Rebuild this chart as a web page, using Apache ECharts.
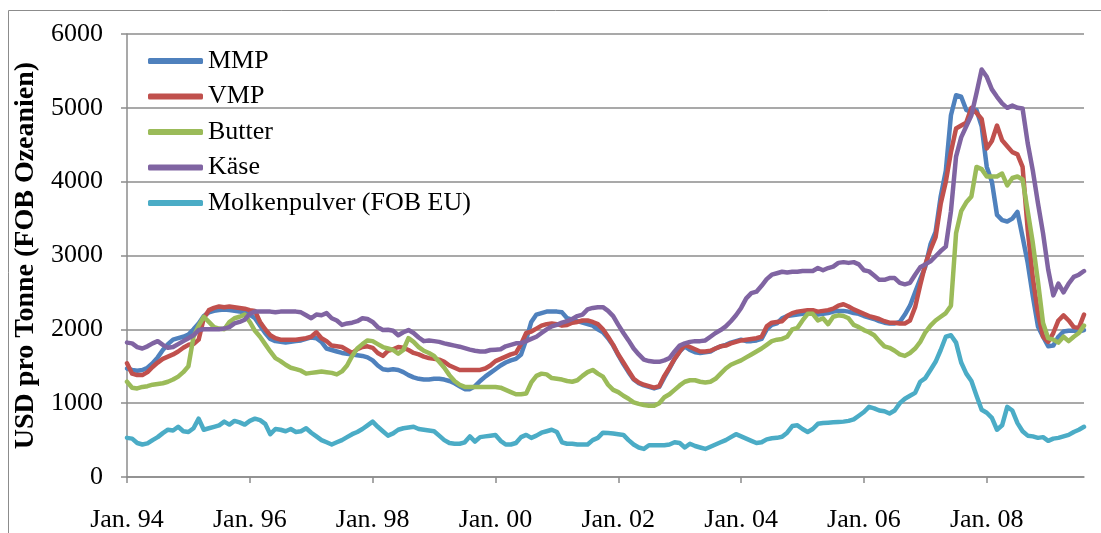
<!DOCTYPE html>
<html>
<head>
<meta charset="utf-8">
<title>Preise Milchprodukte</title>
<script src="https://cdn.jsdelivr.net/npm/echarts@6.0.0/dist/echarts.min.js"></script>
<style>
  html, body { margin: 0; padding: 0; background: #fff; }
  #chart { width: 1101px; height: 533px; }
</style>
</head>
<body>
<div id="chart"></div>
<script>
// Monatswerte ab Jan. 1994, USD pro Tonne
const startYear = 1994
const tickYears = [1994, 1996, 1998, 2000, 2002, 2004, 2006, 2008]

const mmp = [
  1470, 1450, 1440, 1450, 1480, 1540, 1620, 1720, 1800, 1860, 1880, 1900,
  1930, 2000, 2080, 2180, 2230, 2250, 2260, 2270, 2260, 2250, 2240, 2230,
  2200, 2150, 2050, 1950, 1870, 1840, 1830, 1820, 1830, 1840, 1850, 1870,
  1890, 1880, 1830, 1740, 1720, 1700, 1680, 1670, 1660, 1650, 1640, 1620,
  1580, 1510, 1460, 1450, 1460, 1450, 1420, 1380, 1350, 1330, 1320, 1320,
  1330, 1330, 1320, 1300, 1270, 1230, 1190, 1190, 1230, 1300, 1360, 1410,
  1460, 1510, 1550, 1580, 1600, 1660, 1860, 2100, 2200, 2220, 2240, 2240,
  2240, 2230, 2150, 2130, 2110, 2090, 2070, 2050, 2000, 1960, 1880, 1780,
  1650, 1530, 1420, 1320, 1270, 1240, 1220, 1200, 1220, 1350, 1470, 1600,
  1700, 1770, 1720, 1690, 1680, 1690, 1700, 1740, 1770, 1790, 1820, 1840,
  1860, 1840, 1840, 1850, 1870, 2000, 2060, 2080, 2150, 2180, 2190, 2200,
  2210, 2220, 2210, 2200, 2210, 2220, 2240, 2250, 2250, 2240, 2220, 2210,
  2180, 2160, 2140, 2110, 2090, 2080, 2080, 2100, 2200, 2320, 2500, 2680,
  2850, 3150, 3320, 3800, 4150, 4900, 5170, 5150, 4970, 4940, 4970, 4750,
  4200, 4000, 3550, 3480, 3460, 3500, 3590, 3250, 2900, 2450, 2040, 1900,
  1770, 1780, 1900, 1970, 1980, 1980, 1970, 1990
]

const vmp = [
  1540, 1400, 1380, 1380, 1420, 1490, 1550, 1600, 1630, 1660, 1700, 1750,
  1790, 1800, 1860, 2150, 2260, 2290, 2310, 2300, 2310, 2300, 2290, 2280,
  2260, 2250, 2100, 2000, 1920, 1880, 1860, 1860, 1860, 1860, 1870, 1880,
  1900, 1960, 1880, 1840, 1780, 1770, 1760, 1720, 1680, 1730, 1760, 1770,
  1750, 1680, 1640, 1710, 1730, 1760, 1750, 1720, 1680, 1660, 1630, 1610,
  1600, 1590, 1560, 1510, 1480, 1450, 1450, 1450, 1450, 1450, 1470, 1510,
  1570, 1600, 1630, 1660, 1680, 1800, 1950, 1970, 2010, 2050, 2070, 2080,
  2070, 2050, 2060, 2090, 2100, 2120, 2120, 2100, 2070, 2000, 1900, 1790,
  1660, 1550, 1440, 1330, 1280, 1250, 1230, 1210, 1230, 1370, 1480, 1600,
  1700, 1790, 1760, 1730, 1700, 1700, 1710, 1740, 1770, 1780, 1810, 1830,
  1850, 1860, 1870, 1880, 1900, 2040, 2090, 2100, 2110, 2180, 2220, 2240,
  2250, 2260, 2260, 2240, 2250, 2260, 2280, 2320, 2340, 2310, 2270, 2240,
  2210, 2180, 2160, 2140, 2110, 2090, 2090, 2080, 2080, 2120, 2300, 2600,
  2880, 3080, 3250, 3700, 4000, 4400, 4720, 4760, 4800, 5000, 4930, 4850,
  4450, 4550, 4760, 4560, 4480, 4400, 4370, 4200, 3350, 2700, 2220, 1900,
  1830, 1950, 2120, 2190, 2120, 2030, 2020, 2200
]

const butter = [
  1290, 1210, 1200, 1220, 1230, 1250, 1260, 1270, 1290, 1320, 1360, 1420,
  1500, 1900, 2050, 2170, 2100, 2030, 2010, 2000, 2100, 2150, 2170, 2200,
  2100, 1980, 1900, 1800, 1700, 1610, 1570, 1520, 1480, 1460, 1440, 1400,
  1410, 1420, 1430, 1420, 1410, 1390, 1430, 1510, 1640, 1740, 1800, 1850,
  1840, 1800, 1760, 1740, 1720, 1670, 1720, 1880, 1830, 1760, 1710, 1680,
  1640, 1560, 1480, 1380, 1300, 1250, 1220, 1220, 1220, 1220, 1220, 1220,
  1220, 1210, 1180, 1150, 1120, 1120, 1130, 1280, 1370, 1400, 1390, 1340,
  1330, 1320, 1300, 1290, 1310, 1370, 1420, 1450, 1400, 1360, 1250, 1180,
  1150, 1100, 1060, 1010, 990, 975, 965, 965, 1000, 1080, 1120, 1180,
  1240, 1290, 1310, 1310, 1290, 1280, 1290, 1330, 1400, 1470, 1520, 1550,
  1580, 1620, 1660, 1700, 1740, 1790, 1840, 1860, 1870, 1900, 2000, 2020,
  2120, 2210, 2210, 2120, 2150, 2070, 2170, 2190, 2180, 2150, 2060, 2030,
  1990, 1960, 1920, 1840, 1770, 1750, 1710, 1660, 1640, 1680, 1740, 1830,
  1960, 2050, 2120, 2170, 2220, 2320, 3300, 3600, 3720, 3800, 4200, 4170,
  4070, 4070, 4070, 4110, 3950, 4050, 4070, 4030, 3600, 3170, 2650, 2085,
  1880, 1860, 1820, 1900, 1840, 1900, 1950, 2050
]

const kaese = [
  1820, 1810, 1760, 1740, 1770, 1810, 1840, 1790, 1750, 1760, 1800, 1840,
  1880, 1920, 1990, 2000, 2000, 2000, 2000, 2010, 2030, 2080, 2100, 2130,
  2210, 2240, 2240, 2240, 2240, 2230, 2240, 2240, 2240, 2240, 2230, 2190,
  2150, 2200, 2190, 2220, 2150, 2120, 2060, 2080, 2090, 2110, 2150, 2140,
  2100, 2030, 1990, 1995, 1980, 1920, 1960, 1990, 1950, 1890, 1840, 1850,
  1840, 1830, 1810, 1795, 1780, 1765, 1745, 1725, 1710, 1700, 1700, 1720,
  1725, 1730, 1770, 1790, 1810, 1814, 1840, 1870, 1900, 1950, 2000, 2040,
  2060, 2090, 2110, 2140, 2180, 2200, 2270, 2290, 2300, 2300, 2250, 2180,
  2060, 1950, 1850, 1740, 1660, 1590, 1570, 1560, 1560, 1580, 1610, 1700,
  1780, 1810, 1830, 1840, 1840, 1850, 1900, 1950, 1990, 2040, 2110, 2190,
  2290, 2420, 2490, 2510, 2590, 2680, 2740, 2760, 2780, 2770, 2780, 2780,
  2790, 2790, 2790, 2830, 2800, 2830, 2850, 2900, 2910, 2900, 2910, 2880,
  2800, 2785, 2730, 2670, 2670, 2695, 2695, 2630, 2610, 2630, 2740, 2840,
  2880, 2920, 2990, 3060, 3120, 3600, 4340, 4600, 4750, 4900, 5200, 5520,
  5420, 5250, 5150, 5060, 5000, 5030, 5000, 4990, 4520, 4150, 3710, 3300,
  2810, 2460, 2620, 2500, 2620, 2710, 2740, 2790
]

const molke = [
  530, 520, 460, 440, 455, 500, 540, 594, 640, 630, 680, 620,
  610, 660, 790, 640, 660, 680, 700, 750, 710, 760, 740, 710,
  760, 790, 770, 720, 580, 650, 640, 620, 650, 610, 620, 660,
  600, 550, 500, 470, 440, 470, 500, 540, 580, 610, 650, 700,
  750, 680, 620, 560, 590, 640, 660, 670, 680, 650, 640, 630,
  620, 560, 500, 460, 450, 450, 470, 550, 480, 540, 550, 560,
  570, 490, 440, 440, 460, 540, 570, 530, 560, 600, 620, 640,
  610, 470, 450, 450, 440, 440, 440, 500, 530, 600, 595, 590,
  580, 570, 500, 440, 400, 380, 430, 430, 430, 430, 440, 470,
  460, 400, 450, 420, 400, 380, 410, 440, 470, 500, 540, 580,
  550, 520, 490, 460, 470, 510, 525, 530, 545, 600, 690, 700,
  650, 610, 650, 720, 730, 735, 740, 745, 750, 760, 780, 830,
  880, 950, 930, 900, 890, 860, 900, 1000, 1060, 1100, 1140, 1290,
  1340, 1450, 1560, 1720, 1900, 1920, 1820, 1550, 1400, 1300, 1100, 910,
  870, 800, 640, 700, 950, 900, 730, 620, 560, 550, 530, 540,
  490, 520, 530, 550, 570, 610, 640, 680
]

const seriesNames = ['MMP', 'VMP', 'Butter', 'Käse', 'Molkenpulver (FOB EU)']
const seriesValues = [mmp, vmp, butter, kaese, molke]
const seriesColors = ['#4f81bd', '#c0504d', '#9bbb59', '#8064a2', '#4bacc6']

const gridColor = '#8c8c8c'
const lastX = startYear + (mmp.length - 1) / 12

// Monatswert -> [Jahr als Dezimalzahl, Wert]
const toPoints = (arr) => arr.map((v, i) => [startYear + i / 12, v])

const chart = echarts.init(document.getElementById('chart'), null, { renderer: 'canvas' })

const option = {
  animation: false,
  textStyle: { fontFamily: 'Liberation Serif' },
  graphic: [
    {
      type: 'rect',
      silent: true,
      shape: { x: 8.5, y: 10.5, width: 1100, height: 530 },
      style: { fill: 'none', stroke: gridColor, lineWidth: 1 }
    }
  ],
  grid: { left: 127, right: 17, top: 34, bottom: 56 },
  legend: {
    data: seriesNames,
    orient: 'vertical',
    left: 148,
    top: 48,
    padding: 0,
    icon: 'roundRect',
    itemWidth: 55,
    itemHeight: 6,
    itemGap: 9.5,
    textStyle: { fontFamily: 'Liberation Serif', fontSize: 26, lineHeight: 26, color: '#000' }
  },
  xAxis: {
    type: 'value',
    min: startYear,
    max: lastX,
    axisLine: { lineStyle: { color: gridColor, width: 1.5 } },
    axisTick: { customValues: tickYears, length: 6, lineStyle: { color: gridColor, width: 1.5 } },
    axisLabel: {
      customValues: tickYears,
      formatter: (v) => 'Jan. ' + String(Math.round(v) % 100).padStart(2, '0'),
      fontFamily: 'Liberation Serif',
      fontSize: 26,
      color: '#000',
      margin: 30
    },
    splitLine: { show: false }
  },
  yAxis: {
    type: 'value',
    min: 0,
    max: 6000,
    interval: 1000,
    name: 'USD pro Tonne (FOB Ozeanien)',
    nameLocation: 'middle',
    nameRotate: 90,
    nameGap: 77,
    nameTextStyle: { fontFamily: 'Liberation Serif', fontSize: 28, fontWeight: 'bold', color: '#000' },
    axisLine: { show: true, lineStyle: { color: gridColor, width: 1.5 } },
    axisTick: { show: true, length: 6, lineStyle: { color: gridColor, width: 1.5 } },
    axisLabel: {
      formatter: (v) => String(v),
      fontFamily: 'Liberation Serif',
      fontSize: 26,
      color: '#000',
      margin: 24
    },
    splitLine: { lineStyle: { color: gridColor, width: 1.5 } }
  },
  series: seriesNames.map((name, i) => ({
    name: name,
    type: 'line',
    data: toPoints(seriesValues[i]),
    showSymbol: false,
    symbol: 'none',
    color: seriesColors[i],
    lineStyle: { width: 4.5, color: seriesColors[i], cap: 'round', join: 'round' }
  }))
}

chart.setOption(option)
</script>
</body>
</html>
